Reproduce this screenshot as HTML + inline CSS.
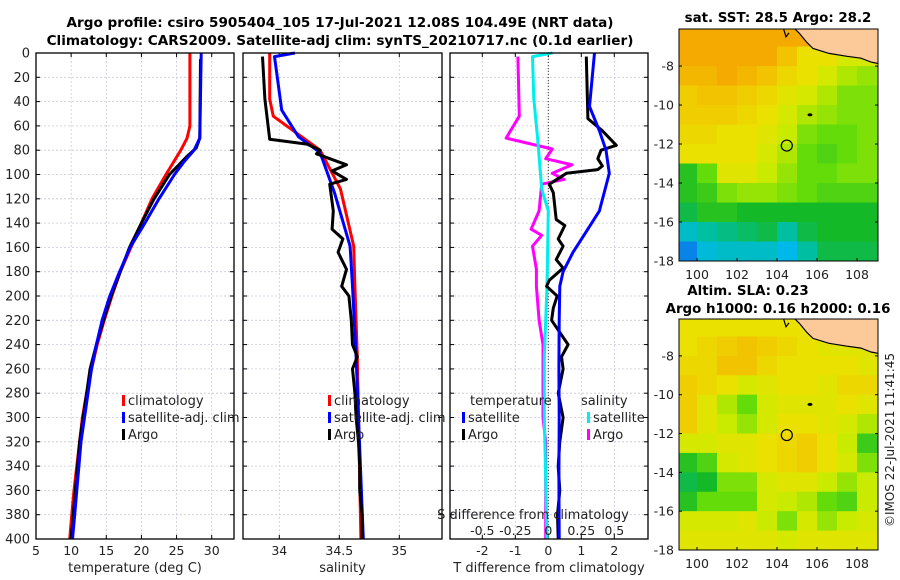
<!DOCTYPE html>
<html><head><meta charset="utf-8"><style>
html,body{margin:0;padding:0;background:#fff;}
svg{display:block;font-family:"DejaVu Sans","Liberation Sans",sans-serif;}
</style></head><body>
<svg id="fig" width="900" height="580" viewBox="0 0 900 580" xmlns="http://www.w3.org/2000/svg">
<text x="340" y="27" font-size="13.6" font-weight="bold" text-anchor="middle">Argo profile: csiro 5905404_105 17-Jul-2021 12.08S 104.49E (NRT data)</text>
<text x="340" y="45" font-size="13.6" font-weight="bold" text-anchor="middle">Climatology: CARS2009. Satellite-adj clim: synTS_20210717.nc (0.1d earlier)</text>
<text x="778" y="22" font-size="13.4" font-weight="bold" text-anchor="middle">sat. SST: 28.5 Argo: 28.2</text>
<text x="748" y="295" font-size="13.4" font-weight="bold" text-anchor="middle">Altim. SLA: 0.23</text>
<text x="778" y="313" font-size="13.4" font-weight="bold" text-anchor="middle">Argo h1000: 0.16 h2000: 0.16</text>
<text transform="translate(894,440) rotate(-90)" font-size="12" text-anchor="middle" fill="#222">©IMOS 22-Jul-2021 11:41:45</text>
<g id="layer"></g>
</svg>
<script>
// ---------- data ----------
const depthTicks = [0,20,40,60,80,100,120,140,160,180,200,220,240,260,280,300,320,340,360,380,400];
// Panel 1 temperature
const tClimDepth = [0,60,70,80,100,120,140,160,180,200,220,240,260,280,300,320,340,360,380,400];
const tClim =      [26.9,26.9,26.5,25.6,23.5,21.5,20,18.5,17,15.8,14.7,13.7,12.9,12.2,11.6,11.2,10.8,10.4,10.1,9.8];
const tSatDepth = [0,70,80,90,100,120,140,160,180,200,220,240,260,280,300,320,340,360,380,400];
const tSat =      [28.5,28.3,27.5,26,24.7,22.5,20.5,18.4,16.9,15.5,14.4,13.6,12.9,12.4,11.9,11.4,11.1,10.8,10.5,10.2];
const tArgoDepth = [5,70,78,85,100,120,140,160,180,200,220,240,260,280,300,320,340,360,380,400];
const tArgo =      [28.4,28.3,27.8,26.5,24,21.8,20,18.3,17,15.7,14.6,13.6,12.7,12.2,11.7,11.2,10.9,10.6,10.3,10];
// Panel 2 salinity
const sClimDepth = [0,38,52,80,112,159,192,250,300,350,400];
const sClim =      [33.92,33.92,33.95,34.34,34.51,34.62,34.63,34.65,34.66,34.67,34.68];
const sSatDepth = [0,3,47,69,82,115,159,192,250,300,350,400];
const sSat =      [34.13,33.96,34.02,34.16,34.34,34.46,34.59,34.61,34.64,34.66,34.68,34.70];
const sArgoDepth = [3,38,71,75,80,83,92,97,104,108,130,145,153,164,178,192,200,220,240,250,260,280,300,320,340,360,380,400];
const sArgo =      [33.86,33.88,33.92,34.23,34.34,34.31,34.56,34.44,34.56,34.42,34.45,34.44,34.53,34.49,34.56,34.52,34.58,34.6,34.61,34.65,34.61,34.63,34.64,34.66,34.67,34.67,34.69,34.69];
// Panel 3 differences
const dTSatDepth = [0,44,64,80,99,130,147,164,180,192,220,260,300,350,400];
const dTSat =      [1.4,1.25,1.55,1.75,1.85,1.55,1.15,0.75,0.45,0.35,0.33,0.32,0.33,0.32,0.33];
const dTArgoDepth = [3,54,64,76,80,87,93,96,99,108,115,137,142,153,159,170,177,187,192,200,210,220,240,250,260,280,300,320,340,360,380,400];
const dTArgo =      [1.15,1.2,1.64,2.06,1.6,1.5,1.64,1.5,0.55,0.03,0.15,0.24,0.5,0.3,0.45,0.24,0.45,0.03,-0.05,0.27,0.15,0.1,0.6,0.4,0.45,0.3,0.45,0.35,0.3,0.35,0.28,0.3];
const dSSatDepth = [0,3,38,71,112,130,192,250,300,350,400];
const dSSat =      [0.03,-0.12,-0.11,-0.08,-0.05,0,-0.01,-0.03,-0.03,-0.02,-0.01];
const dSArgoDepth = [3,52,70,79,87,92,99,104,108,130,145,150,159,178,192,220,240,300,320,400];
const dSArgo =      [-0.23,-0.22,-0.32,0.03,-0.02,0.18,0.03,0.12,-0.05,-0.07,-0.13,-0.05,-0.12,-0.09,-0.09,-0.07,-0.04,-0.04,-0.02,-0.02];
// Maps (1-degree cells, rows lat -6..-18, cols lon 99..109)
const sstGrid = [
 [29,29,29,29,29,29,29,29,29,29],
 [29,29,29,29,29,28.8,28.5,28.5,28.3,28.3],
 [28.9,28.9,29,28.9,28.8,28.6,28.5,28.3,28.1,28],
 [28.7,28.8,28.8,28.7,28.6,28.4,28.3,28.1,27.9,27.9],
 [28.7,28.7,28.7,28.6,28.5,28.3,28.1,28.0,27.9,27.9],
 [28.6,28.6,28.5,28.5,28.4,28.2,27.9,27.8,27.8,27.9],
 [28.5,28.5,28.5,28.5,28.3,28.1,27.8,27.7,27.8,27.9],
 [27.5,27.8,28.4,28.4,28.2,28.0,27.8,27.8,27.9,27.9],
 [27.5,27.6,27.9,28.0,28.0,27.9,27.8,27.7,27.7,27.7],
 [27.3,27.5,27.5,27.4,27.4,27.4,27.4,27.4,27.4,27.4],
 [26.8,27.0,27.1,27.2,27.3,27.0,27.3,27.4,27.4,27.4],
 [26.4,26.7,26.8,26.8,26.8,26.6,27.0,27.3,27.3,27.3]];
const slaGrid = [
 [28.5,28.5,28.5,28.5,28.5,28.5,28.5,28.5,28.5,28.5],
 [28.5,28.6,28.7,28.8,28.7,28.6,28.5,28.4,28.4,28.4],
 [28.6,28.6,28.8,28.8,28.6,28.5,28.5,28.5,28.5,28.4],
 [28.7,28.6,28.5,28.3,28.4,28.5,28.5,28.4,28.6,28.6],
 [28.7,28.4,28.1,27.8,28.3,28.4,28.4,28.4,28.5,28.4],
 [28.7,28.4,28.2,28.0,28.3,28.5,28.5,28.4,28.3,28.1],
 [28.3,28.3,28.4,28.4,28.5,28.6,28.7,28.5,28.2,27.6],
 [27.5,27.7,28.3,28.4,28.5,28.6,28.7,28.5,28.3,27.9],
 [27.3,27.4,27.9,27.9,28.3,28.4,28.4,28.2,28.0,28.2],
 [27.5,27.8,27.8,27.8,28.3,28.2,28.1,27.8,27.7,28.2],
 [28.3,28.3,28.3,28.4,28.2,27.9,28.3,28.0,28.2,28.3],
 [28.4,28.4,28.4,28.4,28.4,28.3,28.4,28.4,28.4,28.4]];
const landLon = [104.8,105.1,105.5,105.8,106.6,107.5,108.2,108.7,109.2,109.2];
const landLat = [-6.0,-6.3,-6.8,-7.1,-7.35,-7.5,-7.6,-7.8,-7.9,-6.0];
const argoLon = 104.49, argoLat = -12.08;
const islandLon = 105.65, islandLat = -10.5;

// ---------- helpers ----------
const NS = "http://www.w3.org/2000/svg";
const layer = document.getElementById('layer');
function mk(tag, attrs, parent){ const e=document.createElementNS(NS,tag); for(const k in attrs) e.setAttribute(k,attrs[k]); (parent||layer).appendChild(e); return e; }
const Y0=53, Y1=539;
const yD = d => Y0 + d*(Y1-Y0)/400;
function xLin(v0,v1,p0,p1){ return v => p0 + (v-v0)*(p1-p0)/(v1-v0); }

function panel(name, left, right, xs, gridVals, tickVals, tickLabels, xlabel, showDepth){
  const g = mk('g',{});  
  mk('rect',{x:left,y:Y0,width:right-left,height:Y1-Y0,fill:'#fff'},g);
  depthTicks.forEach(d=>{ if(d>0&&d<400){ const l=mk('line',{x1:left,x2:right,y1:yD(d),y2:yD(d),stroke:'#c8c8dc','stroke-width':0.8,'stroke-dasharray':'2,2'},g);   }});
  gridVals.forEach(v=>{ const l=mk('line',{x1:xs(v),x2:xs(v),y1:Y0,y2:Y1,stroke:'#c8c8dc','stroke-width':0.8,'stroke-dasharray':'2,2'},g);   });
  depthTicks.forEach(d=>{ mk('line',{x1:left,x2:left+4,y1:yD(d),y2:yD(d),stroke:'#000'},g); mk('line',{x1:right,x2:right-4,y1:yD(d),y2:yD(d),stroke:'#000'},g);
    if(showDepth){ const t=mk('text',{x:left-6,y:yD(d)+4.5,'font-size':13,'text-anchor':'end',fill:'#222'},g); t.textContent=d;   } });
  tickVals.forEach((v,i)=>{ mk('line',{x1:xs(v),x2:xs(v),y1:Y1,y2:Y1-4,stroke:'#000'},g); mk('line',{x1:xs(v),x2:xs(v),y1:Y0,y2:Y0+4,stroke:'#000'},g);
    if(tickLabels){ const t=mk('text',{x:xs(v),y:Y1+16,'font-size':12.5,'text-anchor':'middle',fill:'#222'},g); t.textContent=tickLabels[i];   } });
  const xl=mk('text',{x:(left+right)/2,y:Y1+33,'font-size':13,'text-anchor':'middle',fill:'#222'},g); xl.textContent=xlabel;
   
  return g;
}
function series(g, name, depths, vals, xs, color){
  const pts = depths.map((d,i)=>xs(vals[i]).toFixed(1)+','+yD(d).toFixed(1)).join(' ');
  const p = mk('polyline',{points:pts,fill:'none',stroke:color,'stroke-width':3,'stroke-linejoin':'round'},g);
   
}
function frame(g,left,right){ mk('rect',{x:left,y:Y0,width:right-left,height:Y1-Y0,fill:'none',stroke:'#000','stroke-width':1.3},g); }
function legendItem(g,x,y,color,label){
  const r=mk('rect',{x:x,y:y-10,width:3,height:11,fill:color},g);
   
  const t=mk('text',{x:x+6,y:y,'font-size':13,fill:'#222'},g); t.textContent=label;
   
}

// Panel 1
const xT = xLin(5,33.17,36,234);
const g1 = panel('temperature-panel',36,234,xT,[10,15,20,25,30],[5,10,15,20,25,30],['5','10','15','20','25','30'],'temperature (deg C)',true);
series(g1,'temperature-climatology-line',tClimDepth,tClim,xT,'#ff0000');
series(g1,'temperature-argo-line',tArgoDepth,tArgo,xT,'#000000');
series(g1,'temperature-satellite-line',tSatDepth,tSat,xT,'#0000ff');
frame(g1,36,234);
legendItem(g1,122,405,'#ff0000','climatology');
legendItem(g1,122,422,'#0000ff','satellite-adj. clim');
legendItem(g1,122,439,'#000000','Argo');

// Panel 2
const xS = xLin(34,35,279.3,399.3);
const g2 = panel('salinity-panel',243,442,xS,[34,34.5,35],[34,34.5,35],['34','34.5','35'],'salinity',false);
series(g2,'salinity-climatology-line',sClimDepth,sClim,xS,'#ff0000');
series(g2,'salinity-satellite-line',sSatDepth,sSat,xS,'#0000ff');
series(g2,'salinity-argo-line',sArgoDepth,sArgo,xS,'#000000');
frame(g2,243,442);
legendItem(g2,328,405,'#ff0000','climatology');
legendItem(g2,328,422,'#0000ff','satellite-adj. clim');
legendItem(g2,328,439,'#000000','Argo');

// Panel 3
const xDT = xLin(0,2,548.3,614.3);
const xDS = xLin(0,0.5,548.3,614.3);
const g3 = panel('difference-panel',450,648,xDT,[-2,-1,0,1,2],[-2,-1,0,1,2],['-2','-1','0','1','2'],'T difference from climatology',false);
const zl=mk('line',{x1:xDT(0),x2:xDT(0),y1:Y0,y2:Y1,stroke:'#333','stroke-width':1,'stroke-dasharray':'1,2'},g3);
 
series(g3,'salinity-diff-argo-line',dSArgoDepth,dSArgo,xDS,'#ff00ff');
series(g3,'salinity-diff-satellite-line',dSSatDepth,dSSat,xDS,'#00eeee');
series(g3,'temperature-diff-argo-line',dTArgoDepth,dTArgo,xDT,'#000000');
series(g3,'temperature-diff-satellite-line',dTSatDepth,dTSat,xDT,'#0000ff');
frame(g3,450,648);
const sTicks=[-0.5,-0.25,0,0.25,0.5], sLabels=['-0.5','-0.25','0','0.25','0.5'];
const st=mk('text',{x:533,y:519,'font-size':13,'text-anchor':'middle',fill:'#222'},g3); st.textContent='S difference from climatology';
 
sTicks.forEach((v,i)=>{ const t=mk('text',{x:xDS(v),y:535,'font-size':12.5,'text-anchor':'middle',fill:'#222'},g3); t.textContent=sLabels[i];   });
const lt=mk('text',{x:470,y:405,'font-size':13,fill:'#222'},g3); lt.textContent='temperature';
 
const ls=mk('text',{x:581,y:405,'font-size':13,fill:'#222'},g3); ls.textContent='salinity';
 
legendItem(g3,462,422,'#0000ff','satellite');
legendItem(g3,462,439,'#000000','Argo');
legendItem(g3,587,422,'#00eeee','satellite');
legendItem(g3,587,439,'#ff00ff','Argo');

// ---------- maps ----------
const cStops=[[26.2,[16,80,230]],[26.6,[0,185,235]],[27.0,[0,190,160]],[27.4,[20,185,40]],[27.8,[100,220,10]],[28.2,[200,235,0]],[28.5,[235,225,0]],[28.8,[242,195,0]],[29.0,[244,170,0]]];
function cmap(v){ if(v<=cStops[0][0]) return 'rgb('+cStops[0][1]+')';
  for(let i=1;i<cStops.length;i++){ if(v<=cStops[i][0]){ const a=cStops[i-1],b=cStops[i],f=(v-a[0])/(b[0]-a[0]);
    return 'rgb('+a[1].map((c,j)=>Math.round(c+(b[1][j]-c)*f)).join(',')+')'; } }
  return 'rgb('+cStops[cStops.length-1][1]+')'; }
function drawMap(name, grid, top, bottom, lonTickY, id){
  const L=679,R=878;
  const xL=xLin(100,108,697,857);
  const pxDeg=(bottom-top)/11.9;
  const y8 = bottom - 10*pxDeg;
  const yL = lat => y8 + (-8-lat)*pxDeg;
  const g=mk('g',{});  
  const clip=mk('clipPath',{id:id},g);
  mk('rect',{x:L,y:top,width:R-L,height:bottom-top},clip);
  const cg=mk('g',{'clip-path':'url(#'+id+')'},g);
  grid.forEach((row,r)=>row.forEach((v,c)=>{
    const lon0=99+c, lat0=-6-r;
    const cell=mk('rect',{x:xL(lon0),y:yL(lat0),width:xL(lon0+1)-xL(lon0)+0.5,height:yL(lat0-1)-yL(lat0)+0.5,fill:cmap(v)},cg);
     
  }));
  const lp=mk('polygon',{points:landLon.map((lo,i)=>xL(lo).toFixed(1)+','+yL(landLat[i]).toFixed(1)).join(' '),fill:'#fcc998',stroke:'#000','stroke-width':1.2},cg);
   
  const sm=mk('polyline',{points:xL(104.3)+','+yL(-6.0)+' '+xL(104.45)+','+yL(-6.5)+' '+xL(104.6)+','+yL(-6.3),fill:'none',stroke:'#000','stroke-width':1.2},cg);
   
  const isl=mk('ellipse',{cx:xL(islandLon),cy:yL(islandLat),rx:2.5,ry:1.5,fill:'#000'},cg);
   
  const ci=mk('circle',{cx:xL(argoLon),cy:yL(argoLat),r:5.5,fill:'none',stroke:'#000','stroke-width':1.2},g);
   
  mk('rect',{x:L,y:top,width:R-L,height:bottom-top,fill:'none',stroke:'#000','stroke-width':1},g);
  [-8,-10,-12,-14,-16,-18].forEach(lat=>{ const y=yL(lat);
    mk('line',{x1:L,x2:L+3,y1:y,y2:y,stroke:'#000'},g); mk('line',{x1:R,x2:R-3,y1:y,y2:y,stroke:'#000'},g);
    const t=mk('text',{x:L-5,y:y+4.5,'font-size':12.5,'text-anchor':'end',fill:'#222'},g); t.textContent=lat;
      });
  [100,102,104,106,108].forEach(lon=>{ const x=xL(lon);
    mk('line',{x1:x,x2:x,y1:bottom,y2:bottom-3,stroke:'#000'},g);
    const t=mk('text',{x:x,y:lonTickY,'font-size':12.5,'text-anchor':'middle',fill:'#222'},g); t.textContent=lon;
      });
}
drawMap('sst-map',sstGrid,29,261,279,'clipSST');
drawMap('sla-map',slaGrid,319,550,568,'clipSLA');
</script>
</body></html>
